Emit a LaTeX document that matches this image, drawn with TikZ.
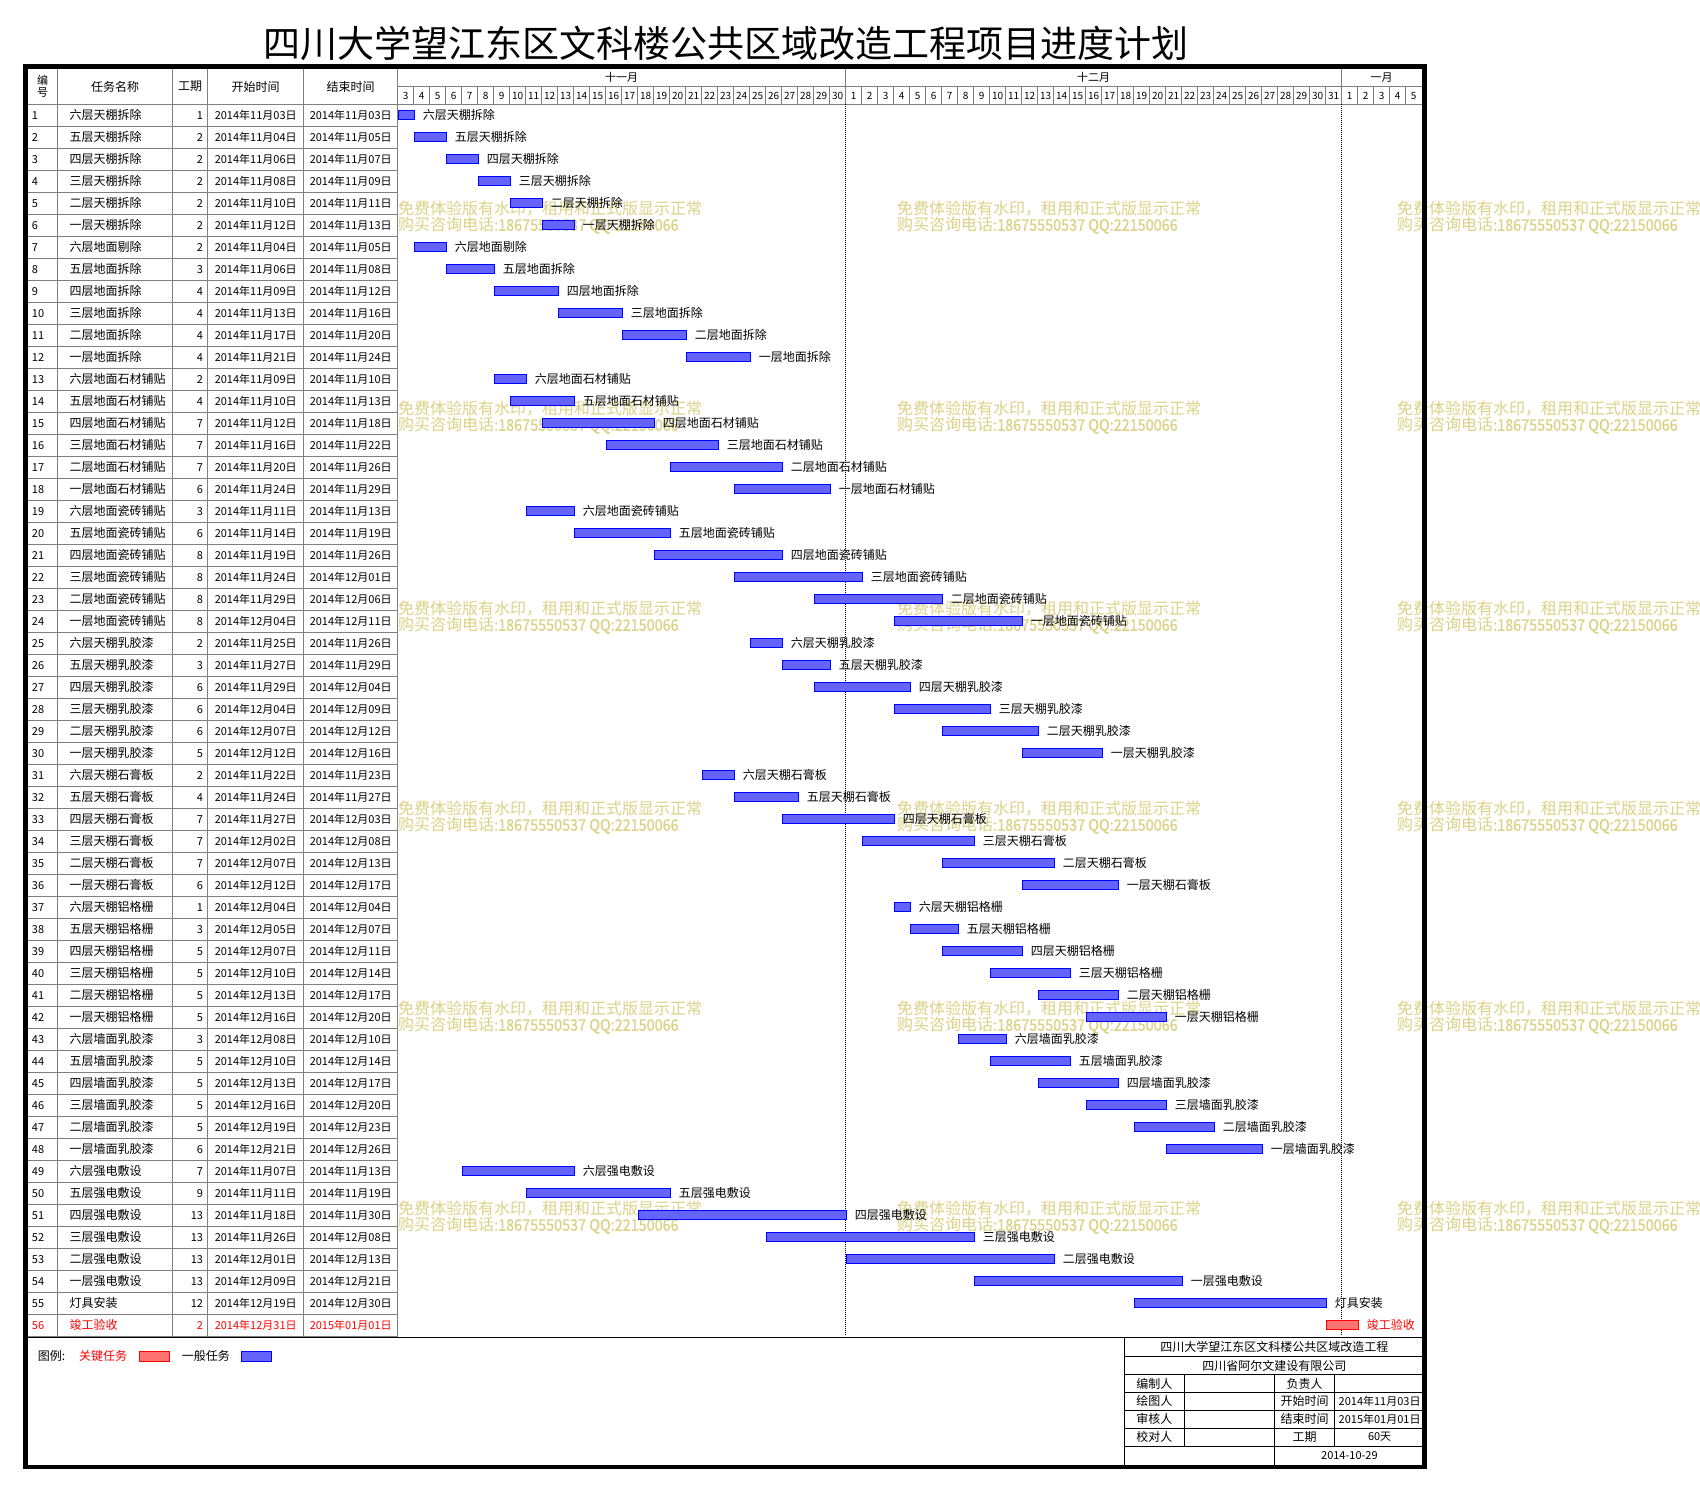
\documentclass[tikz,border=0pt]{standalone}
\usepackage{fontspec}
\setmainfont{Noto Sans CJK SC}
\usetikzlibrary{positioning}

\definecolor{gridgray}{RGB}{128,128,128}
\definecolor{taskblue}{RGB}{100,100,250}
\definecolor{keyred}{RGB}{255,115,115}
\definecolor{wmarkcolor}{RGB}{220,210,135}

\tikzset{
        cntxt/.style={inner sep=0pt, font=\fontsize{12}{12}\selectfont},
        numtxt/.style={inner sep=0pt, font=\fontsize{11}{11}\selectfont},
        daytxt/.style={inner sep=0pt, font=\fontsize{10}{10}\selectfont},
        gridline/.style={gridgray, line width=1pt},
        boxline/.style={black, line width=1pt},
        taskbar/.style={draw=blue, fill=taskblue, line width=1pt, inner sep=0pt, minimum height=9pt, anchor=west},
        keybar/.style={taskbar, draw=red, fill=keyred},
        wmark/.style={inner sep=0pt, anchor=west, text=wmarkcolor, font=\fontsize{16}{16}\selectfont},
}

\begin{document}
\begin{tikzpicture}[x=1pt,y=-1pt]
        \useasboundingbox (0,0) rectangle (1700,1491);
        \fill[white] (0,0) rectangle (1700,1491);

        \node[inner sep=0pt, font=\fontsize{37}{37}\selectfont] (title) at (726,43.3) {四川大学望江东区文科楼公共区域改造工程项目进度计划};

        \foreach \wx [count=\ci] in {398,897,1397}
        \foreach \r in {0,...,5}{
                \node[wmark] (wmA\ci\r) at (\wx,{208.5+200*\r}) {免费体验版有水印，租用和正式版显示正常};
                \node[wmark] (wmB\ci\r) at (\wx,{225.5+200*\r}) {购买咨询电话{\addfontfeatures{FakeStretch=0.9,FakeBold=1}:18675550537 QQ:22150066}};
        }

        % table grid
        \foreach \n in {1,...,56} \draw[gridline] (27.7,{104.3+22*\n}) -- (397.7,{104.3+22*\n});
        \draw[gridline] (27.7,104.3) -- (1422.3,104.3);
        \foreach \cx in {57.7,172.7,207.7,303.7,397.7} \draw[gridline] (\cx,68.3) -- (\cx,1336.3);
        \draw[gridline] (397.7,86.7) -- (1422.3,86.7);
        \foreach \k in {1,...,63} \draw[gridline] ({397.7+16*\k},86.7) -- ({397.7+16*\k},104.3);
        \draw[gridline] (845.7,68.3) -- (845.7,86.7);
        \draw[gridline] (1341.7,68.3) -- (1341.7,86.7);
        \draw[densely dotted, line width=1pt] (845.7,104.3) -- (845.7,1336.3);
        \draw[densely dotted, line width=1pt] (1341.7,104.3) -- (1341.7,1336.3);

        \node[numtxt, align=center, font=\fontsize{11}{11.5}\selectfont] (hno) at (42.7,86.5) {编\\号};
        \node[cntxt] (hname) at (115,86.5) {任务名称};
        \node[cntxt] (hdur) at (190.2,86.5) {工期};
        \node[cntxt] (hstart) at (255.7,86.5) {开始时间};
        \node[cntxt] (hend) at (350.7,86.5) {结束时间};
        \node[numtxt] (nov) at (621.7,77.5) {十一月};
        \node[numtxt] (dec) at (1093.7,77.5) {十二月};
        \node[numtxt] (jan) at (1381.7,77.5) {一月};
        \foreach \d in {3,...,30} \node[daytxt] (nov\d) at ({397.7+16*(\d-2.5)},95.5) {\d};
        \foreach \d in {1,...,31} \node[daytxt] (dec\d) at ({845.7+16*(\d-0.5)},95.5) {\d};
        \foreach \d in {1,...,5} \node[daytxt] (jan\d) at ({1341.7+16*(\d-0.5)},95.5) {\d};

        % tasks
        \foreach \n/\name/\dur/\sd/\ed/\s in {
                1/六层天棚拆除/1/11月03/11月03/1, 2/五层天棚拆除/2/11月04/11月05/2,
                3/四层天棚拆除/2/11月06/11月07/4, 4/三层天棚拆除/2/11月08/11月09/6,
                5/二层天棚拆除/2/11月10/11月11/8, 6/一层天棚拆除/2/11月12/11月13/10,
                7/六层地面剔除/2/11月04/11月05/2, 8/五层地面拆除/3/11月06/11月08/4,
                9/四层地面拆除/4/11月09/11月12/7, 10/三层地面拆除/4/11月13/11月16/11,
                11/二层地面拆除/4/11月17/11月20/15, 12/一层地面拆除/4/11月21/11月24/19,
                13/六层地面石材铺贴/2/11月09/11月10/7, 14/五层地面石材铺贴/4/11月10/11月13/8,
                15/四层地面石材铺贴/7/11月12/11月18/10, 16/三层地面石材铺贴/7/11月16/11月22/14,
                17/二层地面石材铺贴/7/11月20/11月26/18, 18/一层地面石材铺贴/6/11月24/11月29/22,
                19/六层地面瓷砖铺贴/3/11月11/11月13/9, 20/五层地面瓷砖铺贴/6/11月14/11月19/12,
                21/四层地面瓷砖铺贴/8/11月19/11月26/17, 22/三层地面瓷砖铺贴/8/11月24/12月01/22,
                23/二层地面瓷砖铺贴/8/11月29/12月06/27, 24/一层地面瓷砖铺贴/8/12月04/12月11/32,
                25/六层天棚乳胶漆/2/11月25/11月26/23, 26/五层天棚乳胶漆/3/11月27/11月29/25,
                27/四层天棚乳胶漆/6/11月29/12月04/27, 28/三层天棚乳胶漆/6/12月04/12月09/32,
                29/二层天棚乳胶漆/6/12月07/12月12/35, 30/一层天棚乳胶漆/5/12月12/12月16/40,
                31/六层天棚石膏板/2/11月22/11月23/20, 32/五层天棚石膏板/4/11月24/11月27/22,
                33/四层天棚石膏板/7/11月27/12月03/25, 34/三层天棚石膏板/7/12月02/12月08/30,
                35/二层天棚石膏板/7/12月07/12月13/35, 36/一层天棚石膏板/6/12月12/12月17/40,
                37/六层天棚铝格栅/1/12月04/12月04/32, 38/五层天棚铝格栅/3/12月05/12月07/33,
                39/四层天棚铝格栅/5/12月07/12月11/35, 40/三层天棚铝格栅/5/12月10/12月14/38,
                41/二层天棚铝格栅/5/12月13/12月17/41, 42/一层天棚铝格栅/5/12月16/12月20/44,
                43/六层墙面乳胶漆/3/12月08/12月10/36, 44/五层墙面乳胶漆/5/12月10/12月14/38,
                45/四层墙面乳胶漆/5/12月13/12月17/41, 46/三层墙面乳胶漆/5/12月16/12月20/44,
                47/二层墙面乳胶漆/5/12月19/12月23/47, 48/一层墙面乳胶漆/6/12月21/12月26/49,
                49/六层强电敷设/7/11月07/11月13/5, 50/五层强电敷设/9/11月11/11月19/9,
                51/四层强电敷设/13/11月18/11月30/16, 52/三层强电敷设/13/11月26/12月08/24,
                53/二层强电敷设/13/12月01/12月13/29, 54/一层强电敷设/13/12月09/12月21/37,
                55/灯具安装/12/12月19/12月30/47}{
                \pgfmathsetmacro\yc{93.3+22*\n}
                \pgfmathsetmacro\bx{397.7+16*(\s-1)}
                \pgfmathsetmacro\bw{16*\dur}
                \node[numtxt, anchor=west] (no\n) at (31.7,\yc) {\n};
                \node[cntxt, anchor=west] (name\n) at (69.3,\yc) {\name};
                \node[numtxt, anchor=east] (dur\n) at (203.3,\yc) {\dur};
                \node[numtxt] (start\n) at (255.7,\yc) {2014年{\sd}日};
                \node[numtxt] (end\n) at (350.7,\yc) {2014年{\ed}日};
                \node[taskbar, minimum width=\bw pt] (bar\n) at (\bx,\yc) {};
                \node[cntxt, right=8pt of bar\n] (label\n) {\name};
        }
        \node[numtxt, anchor=west, red] (no56) at (31.7,1325.3) {56};
        \node[cntxt, anchor=west, red] (name56) at (69.3,1325.3) {竣工验收};
        \node[numtxt, anchor=east, red] (dur56) at (203.3,1325.3) {2};
        \node[numtxt, red] (start56) at (255.7,1325.3) {2014年12月31日};
        \node[numtxt, red] (end56) at (350.7,1325.3) {2015年01月01日};
        \node[keybar, minimum width=32pt] (bar56) at (1325.7,1325.3) {};
        \node[cntxt, red, right=8pt of bar56] (label56) {竣工验收};

        % legend and title block
        \draw[boxline] (27.7,1337.5) -- (1422.3,1337.5);
        \node[cntxt, anchor=west] (legend) at (37.7,1356) {图例:};
        \node[cntxt, anchor=west, red] (keylab) at (79,1356) {关键任务};
        \node[keybar, minimum width=30pt, minimum height=10pt] (keybox) at (139,1356) {};
        \node[cntxt, anchor=west] (normlab) at (181.7,1356) {一般任务};
        \node[taskbar, minimum width=30pt, minimum height=10pt] (normbox) at (241,1356) {};

        \draw[boxline] (1124.3,1337.5) -- (1124.3,1465);
        \foreach \ly in {1356.7,1374.7,1392.3,1410.3,1428.3,1446} \draw[boxline] (1124.3,\ly) -- (1422.3,\ly);
        \draw[boxline] (1184.3,1374.7) -- (1184.3,1446);
        \draw[boxline] (1274.3,1374.7) -- (1274.3,1465);
        \draw[boxline] (1334.7,1374.7) -- (1334.7,1446);
        \node[cntxt] (proj) at (1274.4,1347) {四川大学望江东区文科楼公共区域改造工程};
        \node[cntxt] (comp) at (1274.4,1365.7) {四川省阿尔文建设有限公司};
        \node[cntxt] (maker) at (1154.3,1383.5) {编制人};
        \node[cntxt] (drawer) at (1154.3,1401.3) {绘图人};
        \node[cntxt] (checker) at (1154.3,1419.3) {审核人};
        \node[cntxt] (proofer) at (1154.3,1437.2) {校对人};
        \node[cntxt] (chief) at (1304.5,1383.5) {负责人};
        \node[cntxt] (tstart) at (1304.5,1401.3) {开始时间};
        \node[cntxt] (tend) at (1304.5,1419.3) {结束时间};
        \node[cntxt] (tdur) at (1304.5,1437.2) {工期};
        \node[numtxt] (vstart) at (1379.6,1401.3) {2014年11月03日};
        \node[numtxt] (vend) at (1379.6,1419.3) {2015年01月01日};
        \node[numtxt] (vdur) at (1379.6,1437.2) {60天};
        \node[numtxt] (vdate) at (1349.4,1455.5) {2014-10-29};

        \draw[line width=4.4pt] (25.5,66.3) rectangle (1424.5,1467.2);
\end{tikzpicture}
\end{document}
